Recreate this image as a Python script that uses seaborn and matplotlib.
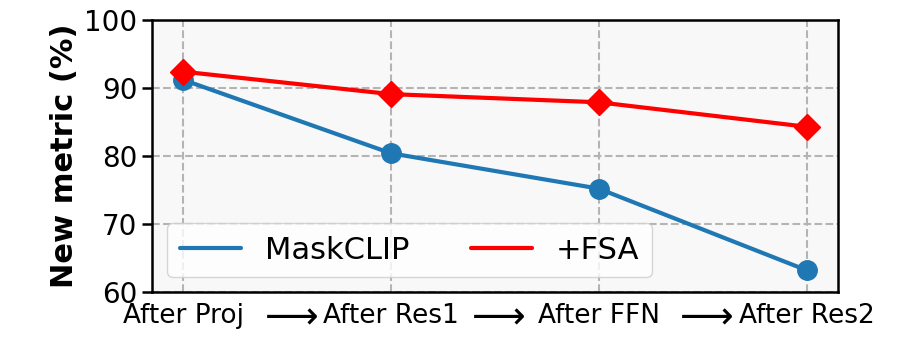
import numpy as np
import pandas as pd
import matplotlib
matplotlib.use("Agg")
import matplotlib.pyplot as plt
import matplotlib.transforms as mtransforms
import seaborn as sns

# data
stages = ["After Proj", "After Res1", "After FFN", "After Res2"]
maskclip = [91.2, 80.4, 75.2, 63.2]
fsa = [92.4, 89.1, 87.9, 84.3]

df = pd.DataFrame({
    "Stage": stages * 2,
    "Value": maskclip + fsa,
    "Method": ["MaskCLIP"] * len(stages) + ["+FSA"] * len(stages),
})

sns.set_style("ticks")
plt.rcParams["font.family"] = ["DejaVu Sans"]
plt.rcParams["text.color"] = "black"
plt.rcParams["axes.labelcolor"] = "black"
plt.rcParams["xtick.color"] = "black"
plt.rcParams["ytick.color"] = "black"

fig = plt.figure(figsize=(8.97, 3.39), dpi=100)
ax = fig.add_axes([0.1695, 0.1386, 0.7645, 0.8024])
ax.set_facecolor("#f8f8f8")

palette = {"MaskCLIP": "#1f77b4", "+FSA": "#ff0000"}
markers = {"MaskCLIP": "o", "+FSA": "D"}
sizes = {"MaskCLIP": 14, "+FSA": 13}

for method in ["MaskCLIP", "+FSA"]:
    sub = df[df["Method"] == method]
    sns.lineplot(data=sub, x="Stage", y="Value", ax=ax, color=palette[method],
                 lw=3, label=method, sort=False, zorder=3)
    ax.plot(np.arange(len(stages)), sub["Value"].values, ls="none",
            marker=markers[method], ms=sizes[method], color=palette[method],
            zorder=4)

ax.set_xlim(-0.15, len(stages) - 1 + 0.15)
ax.set_ylim(60, 100)
ax.set_yticks([60, 70, 80, 90, 100])
ax.set_xticks(range(len(stages)))
ax.set_xticklabels(stages)
ax.set_xlabel("")
ax.set_ylabel("New metric (%)", fontsize=22, fontweight="bold", color="black")

ax.grid(True, ls="--", color="#b4b4b4", lw=1.5)
ax.set_axisbelow(True)
for s in ax.spines.values():
    s.set_visible(True)
    s.set_color("black")
    s.set_linewidth(1.8)
ax.tick_params(axis="y", labelsize=20, length=7, width=1.8, direction="out",
               colors="black")
ax.tick_params(axis="x", labelsize=19, length=0, pad=8, colors="black")

# arrows between the stage labels
trans = mtransforms.blended_transform_factory(ax.transData, ax.transAxes)
for i in range(len(stages) - 1):
    ax.text(i + 0.5, -0.09, r"$\longrightarrow$", transform=trans,
            ha="center", va="center", fontsize=27, color="black")

leg = ax.legend(loc="lower left", ncol=2, fontsize=22, frameon=True,
                edgecolor="#cccccc", facecolor="white", framealpha=0.8,
                handlelength=2.0, columnspacing=2.0)
for t in leg.get_texts():
    t.set_color("black")

fig.savefig("out.png", dpi=100)
